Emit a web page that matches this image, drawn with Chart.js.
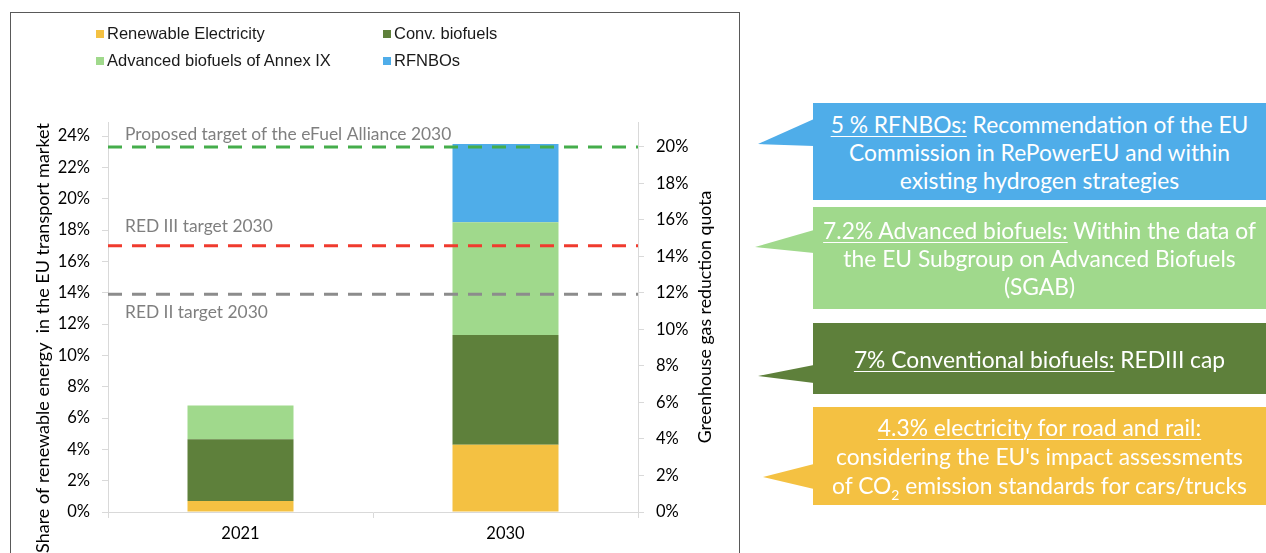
<!DOCTYPE html>
<html>
<head>
<meta charset="utf-8">
<script src="https://cdn.jsdelivr.net/npm/chart.js@4"></script>
<style>
body { margin: 0; width: 1266px; height: 553px; overflow: hidden; background: #fff; position: relative; font-family: Lato, sans-serif; }
#frame { position: absolute; left: 10px; top: 12px; width: 728px; height: 600px; border: 1px solid #595959; border-bottom: none; }
#wrap { position: absolute; left: 0; top: 0; width: 740px; height: 553px; }
#legend { position: absolute; left: 96px; top: 22px; width: 600px; font: 16.5px "Liberation Sans", Arial, sans-serif; color: #1a1a1a; }
.item { position: absolute; white-space: nowrap; line-height: 22px; }
.item i { display: inline-block; width: 8px; height: 8px; margin-right: 3px; vertical-align: 1px; }
.box { position: absolute; left: 813px; width: 453px; color: #fff; font-size: 22.8px; line-height: 28px; text-align: center; display: flex; align-items: center; justify-content: center; }
.box u { text-decoration-thickness: 1px; text-underline-offset: 3px; }
#tails { position: absolute; left: 0; top: 0; }
</style>
</head>
<body>
<div id="frame"></div>
<div id="wrap"><canvas id="myChart" width="740" height="553"></canvas></div>
<div id="legend"></div>
<svg id="tails" width="1266" height="553">
  <polygon points="758,144 814,119 814,146" fill="#4FADE9"/>
  <polygon points="755,247 814,230 814,253" fill="#A0D98C"/>
  <polygon points="758,376 814,365 814,383" fill="#5E803B"/>
  <polygon points="763,477 814,464 814,489" fill="#F4C142"/>
</svg>
<div class="box" style="top:103px;height:97px;background:#4FADE9"><div><u>5 % RFNBOs:</u> Recommendation of the EU<br>Commission in RePowerEU and within<br>existing hydrogen strategies</div></div>
<div class="box" style="top:207px;height:102px;background:#A0D98C"><div><u>7.2% Advanced biofuels:</u> Within the data of<br>the EU Subgroup on Advanced Biofuels<br>(SGAB)</div></div>
<div class="box" style="top:323px;height:71px;background:#5E803B"><div><u>7% Conventional biofuels:</u> REDIII cap</div></div>
<div class="box" style="top:407px;height:98px;background:#F4C142;line-height:29px"><div><u>4.3% electricity for road and rail:</u><br>considering the EU's impact assessments<br>of CO<sub style="font-size:14px;line-height:0">2</sub> emission standards for cars/trucks</div></div>
<script>
// values (percent)
var categories = ["2021", "2030"];
var electricity = [0.7, 4.3];
var convBiofuels = [3.95, 7.0];
var advBiofuels = [2.15, 7.2];
var rfnbos = [0, 5.0];

var seriesNames = ["Renewable Electricity", "Conv. biofuels", "Advanced biofuels of Annex IX", "RFNBOs"];
var seriesColors = ["#F4C142", "#5E803B", "#A0D98C", "#4FADE9"];

// tick values for both axes
var leftTicks = [0, 2, 4, 6, 8, 10, 12, 14, 16, 18, 20, 22, 24];
var rightTicks = [0, 2, 4, 6, 8, 10, 12, 14, 16, 18, 20];

// dashed target lines (left axis value)
var targetNames = ["Proposed target of the eFuel Alliance 2030", "RED III target 2030", "RED II target 2030"];
var targetValues = [23.3, 17.0, 13.9];
var targetColors = ["#45AD4B", "#F03B2E", "#8C8C8C"];

var axisTitleLeft = "Share of renewable energy  in the EU transport market";
var axisTitleRight = "Greenhouse gas reduction quota";

// html legend, two columns
var legend = document.getElementById('legend');
seriesNames.forEach(function(name, i) {
    var el = document.createElement('div');
    el.className = 'item';
    el.style.left = (i % 2) * 287 + 'px';
    el.style.top = Math.floor(i / 2) * 27 + 'px';
    el.innerHTML = '<i style="background:' + seriesColors[i] + '"></i>' + name;
    legend.appendChild(el);
});

var targetLines = {
    id: 'targetLines',
    afterDatasetsDraw: function(chart) {
        var ctx = chart.ctx, area = chart.chartArea, y = chart.scales.y;
        var labelOffset = [-13, -19, 18];
        ctx.save();
        for (var i = 0; i < targetValues.length; i++) {
            var py = y.getPixelForValue(targetValues[i]);
            ctx.strokeStyle = targetColors[i];
            ctx.lineWidth = 3;
            ctx.setLineDash([14, 10]);
            ctx.beginPath();
            ctx.moveTo(area.left, py);
            ctx.lineTo(area.right, py);
            ctx.stroke();
            ctx.fillStyle = '#7F7F7F';
            ctx.font = '17.4px Lato';
            ctx.textBaseline = 'middle';
            ctx.fillText(targetNames[i], area.left + 17, py + labelOffset[i]);
        }
        ctx.restore();
    },
    afterDraw: function(chart) {
        var ctx = chart.ctx, area = chart.chartArea;
        ctx.save();
        ctx.fillStyle = '#000';
        ctx.font = '18px Lato';
        ctx.textAlign = 'center';
        ctx.textBaseline = 'middle';
        ctx.translate(43, 338);
        ctx.rotate(-Math.PI / 2);
        ctx.fillText(axisTitleLeft, 0, 0);
        ctx.restore();
        ctx.save();
        ctx.fillStyle = '#000';
        ctx.font = '17.7px Lato';
        ctx.textAlign = 'center';
        ctx.textBaseline = 'middle';
        ctx.translate(area.right + 67, (area.top + area.bottom) / 2);
        ctx.rotate(-Math.PI / 2);
        ctx.fillText(axisTitleRight, 0, 0);
        ctx.restore();
    }
};

var tickFont = { family: 'Lato', size: 16.5 };
var pct = function(v) { return v + '%'; };

new Chart("myChart", {
    type: "bar",
    data: {
        labels: categories,
        datasets: [
            { label: seriesNames[0], data: electricity, backgroundColor: seriesColors[0] },
            { label: seriesNames[1], data: convBiofuels, backgroundColor: seriesColors[1] },
            { label: seriesNames[2], data: advBiofuels, backgroundColor: seriesColors[2] },
            { label: seriesNames[3], data: rfnbos, backgroundColor: seriesColors[3] }
        ]
    },
    options: {
        responsive: false,
        animation: false,
        barPercentage: 0.4,
        categoryPercentage: 1,
        layout: { padding: { top: 122, left: 0, right: 0, bottom: 0 } },
        plugins: { legend: { display: false }, tooltip: { enabled: false } },
        scales: {
            x: {
                stacked: true,
                grid: { drawOnChartArea: false, offset: true, color: '#D9D9D9', tickLength: 6 },
                border: { color: '#D9D9D9' },
                ticks: { color: '#000', font: tickFont, padding: 6 },
                afterFit: function(s) { s.height = 41; }
            },
            y: {
                stacked: true, min: 0, max: 24.9,
                grid: { drawOnChartArea: false, color: '#D9D9D9', tickLength: 6 },
                border: { color: '#D9D9D9' },
                ticks: { color: '#000', font: tickFont, padding: 12, callback: pct },
                afterBuildTicks: function(s) { s.ticks = leftTicks.map(function(v) { return { value: v }; }); },
                afterFit: function(s) { s.width = 108; }
            },
            y2: {
                position: 'right', min: 0, max: 21.35,
                grid: { drawOnChartArea: false, color: '#D9D9D9', tickLength: 6 },
                border: { color: '#D9D9D9' },
                ticks: { color: '#000', font: tickFont, padding: 12, callback: pct },
                afterBuildTicks: function(s) { s.ticks = rightTicks.map(function(v) { return { value: v }; }); },
                afterFit: function(s) { s.width = 102; }
            }
        }
    },
    plugins: [targetLines]
});
</script>
</body>
</html>
